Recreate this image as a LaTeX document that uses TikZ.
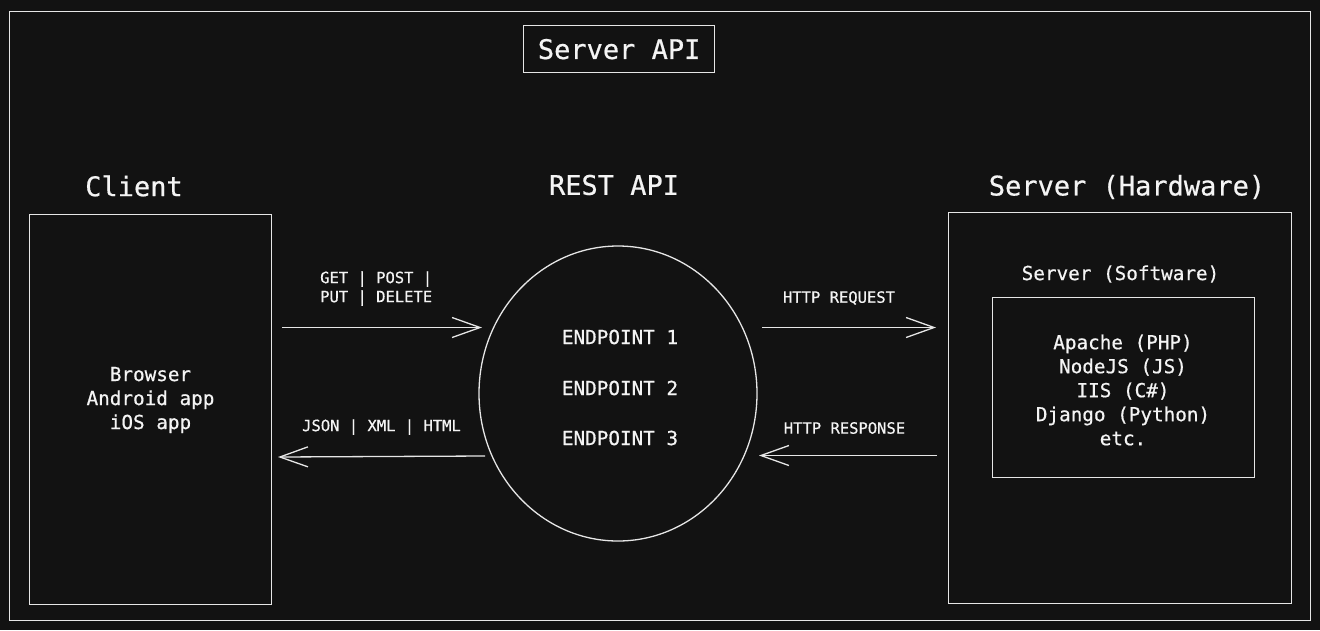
\documentclass[tikz,border=0pt]{standalone}
\usepackage{fontspec}
\newfontfamily\sketchmono[FakeBold=0.6]{DejaVu Sans Mono}
\usetikzlibrary{arrows.meta,shapes.geometric}
\definecolor{bg}{HTML}{121212}
\definecolor{ink}{HTML}{E6E6E6}
\definecolor{txt}{HTML}{F4F4F4}
\tikzset{
  x=1pt, y=-1pt,
  sketch/.style={draw=ink, line width=1.3pt},
  boxnode/.style={sketch, rectangle, inner sep=0pt, anchor=north west},
  title/.style={text=txt, font=\sketchmono\fontsize{27}{32}\selectfont, inner sep=0pt},
  body/.style={text=txt, font=\sketchmono\fontsize{19.3}{24}\selectfont, align=center, inner sep=0pt},
  small/.style={text=txt, font=\sketchmono\fontsize{15.5}{19}\selectfont, inner sep=0pt},
  flow/.style={draw=ink, line width=1.3pt, -{Straight Barb[length=28pt, width=20pt, line width=1.3pt]}},
}
\begin{document}
\begin{tikzpicture}
\fill[bg] (0,0) rectangle (1320,630);
\useasboundingbox (0,0) rectangle (1320,630);

% outer frame
\node[boxnode, minimum width=1301pt, minimum height=609pt] (frame) at (9,11) {};

% Server API title box
\node[boxnode, minimum width=191pt, minimum height=47pt] (apibox) at (523,25) {};
\node[title] (apititle) at (apibox.center) {Server API};

% titles
\node[title] (clienttitle) at (134,186) {Client};
\node[title] (resttitle) at (614,185) {REST API};
\node[title] (hwtitle) at (1127,187) {Server (Hardware)};

% client box
\node[boxnode, minimum width=242pt, minimum height=390pt] (client) at (29,214) {};
\node[body] (clienttext) at (150.5,400) {Browser\\Android app\\iOS app};

% REST API ellipse
\node[sketch, ellipse, minimum width=278pt, minimum height=295pt, inner sep=0pt] (rest) at (618,393.5) {};
\node[body] (ep1) at (620,337) {ENDPOINT 1};
\node[body] (ep2) at (620,388) {ENDPOINT 2};
\node[body] (ep3) at (620,438) {ENDPOINT 3};

% server hardware box
\node[boxnode, minimum width=343pt, minimum height=391pt] (hw) at (948,212) {};
\node[body] (swtitle) at (1120.5,274) {Server (Software)};
\node[boxnode, minimum width=262pt, minimum height=180pt] (sw) at (992,297) {};
\node[body] (swtext) at (1123,390) {Apache (PHP)\\NodeJS (JS)\\IIS (C\#)\\Django (Python)\\etc.};

% arrow labels
\node[small, anchor=west, align=left] (methods) at (320,288.5) {GET | POST |\\PUT | DELETE};
\node[small] (formats) at (381.5,427) {JSON | XML | HTML};
\node[small] (req) at (839,298) {HTTP REQUEST};
\node[small] (resp) at (844.5,428) {HTTP RESPONSE};

% arrow end points
\coordinate (a1s) at (282,327.5);
\coordinate (a1e) at (482,327.5);
\coordinate (a2s) at (485,456);
\coordinate (a2e) at (278,457);
\coordinate (a3s) at (762,327.5);
\coordinate (a3e) at (936,327.5);
\coordinate (a4s) at (937,455.5);
\coordinate (a4e) at (759,455.5);

\draw[flow] (a1s) -- (a1e);
\draw[flow] (a2s) -- (a2e);
\draw[flow] (a3s) -- (a3e);
\draw[flow] (a4s) -- (a4e);
\end{tikzpicture}
\end{document}
